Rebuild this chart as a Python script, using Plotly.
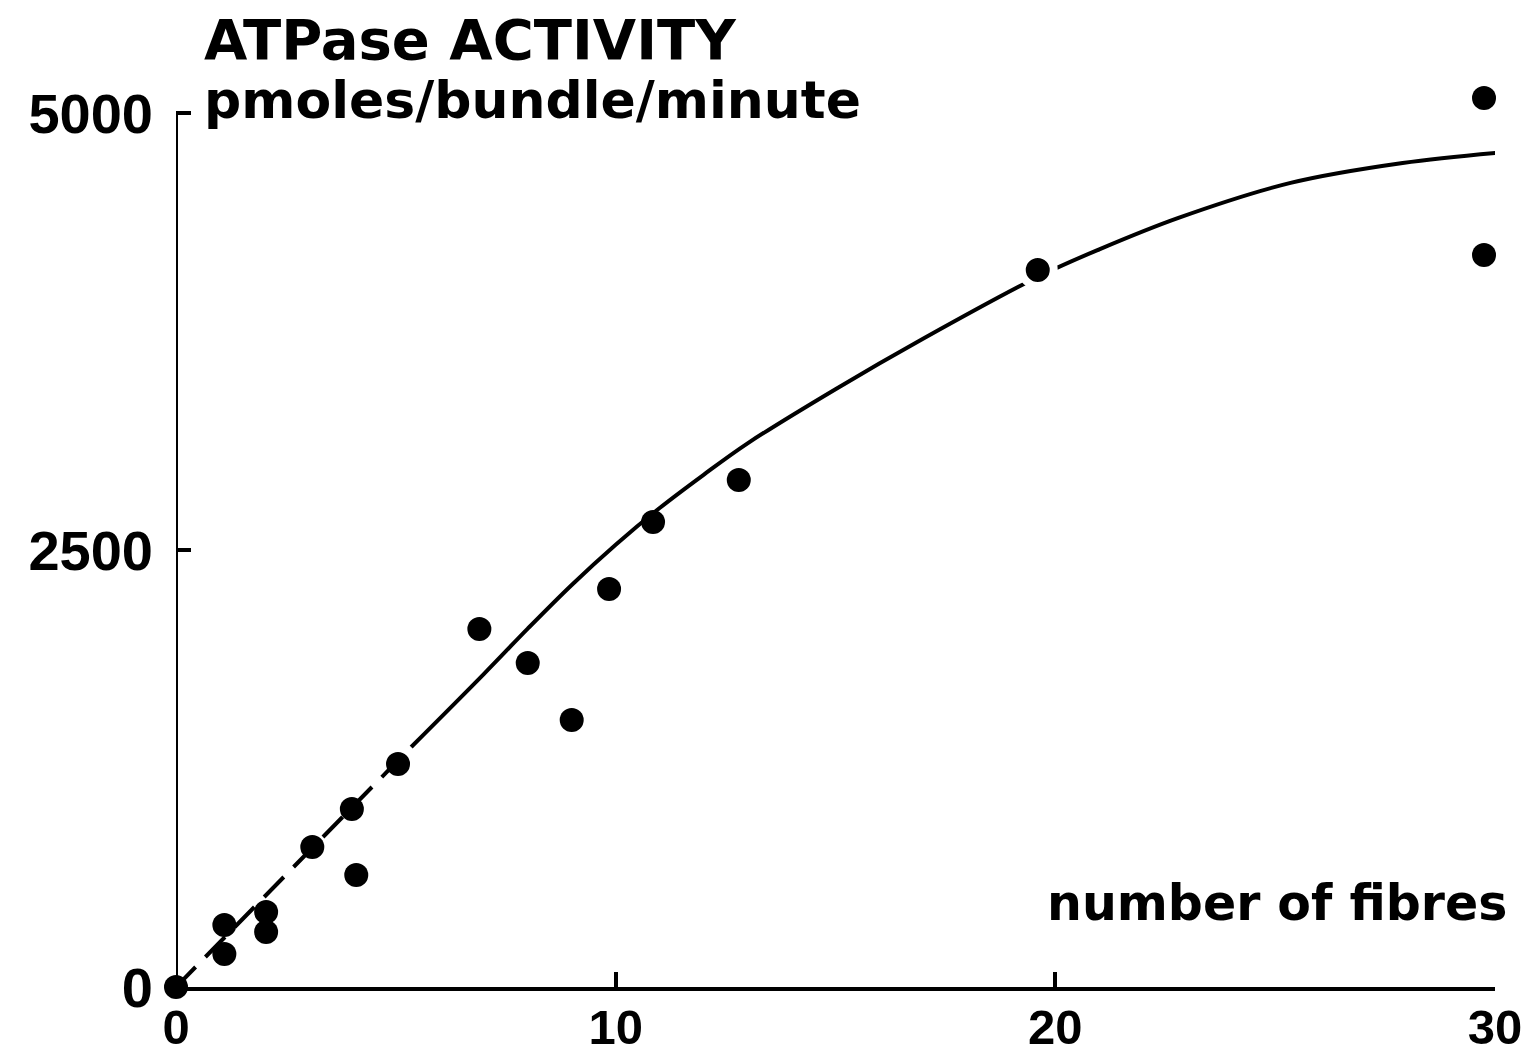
import plotly.graph_objects as go

# Measured data points (number of fibres, ATPase activity pmoles/bundle/minute)
fibres = [0, 1.1, 1.1, 2.05, 2.05, 3.1, 4.0, 4.1, 5.05, 6.9, 8.0, 9.0, 9.85, 10.85, 12.8, 19.6, 29.75, 29.75]
activity = [0, 355, 189, 429, 315, 801, 1018, 641, 1276, 2048, 1854, 1527, 2277, 2660, 2900, 4102, 5086, 4188]

# Fitted curve, dashed initial segment
curve_dash_x = [0, 5.35]
curve_dash_y = [0, 1373]

# Fitted curve, solid part
curve_x = [5.35, 7, 8, 9, 10, 11, 12, 13, 15, 17, 19.6, 21, 22.8, 25.35, 27.9, 30.25]
curve_y = [1373, 1790, 2050, 2300, 2530, 2740, 2930, 3110, 3420, 3710, 4062, 4220, 4400, 4600, 4714, 4777]

x_ticks = [0, 10, 20, 30]
y_ticks = [0, 2500, 5000]
y_axis_top = 5000

TICK_FONT = "Liberation Sans"
TEXT_FONT = "DejaVu Sans"

# the point lying on the curve at ~20 fibres has a white gap in the line around it
gap_point_x = 19.6
sizes = [32 if xv == gap_point_x else 24 for xv in fibres]
outline_w = [8 if xv == gap_point_x else 0 for xv in fibres]

fig = go.Figure()
fig.add_trace(go.Scatter(x=curve_dash_x, y=curve_dash_y, mode="lines",
                         line=dict(color="black", width=4, dash="28px,14px"),
                         cliponaxis=False, showlegend=False, hoverinfo="skip"))
fig.add_trace(go.Scatter(x=curve_x, y=curve_y, mode="lines",
                         line=dict(color="black", width=4, shape="spline", smoothing=1.0),
                         cliponaxis=False, showlegend=False, hoverinfo="skip"))
fig.add_trace(go.Scatter(x=fibres, y=activity, mode="markers",
                         marker=dict(color="black", size=sizes, opacity=1,
                                     line=dict(color="white", width=outline_w)),
                         cliponaxis=False, showlegend=False))

# vertical axis line only up to the top tick
fig.add_shape(type="line", xref="x", yref="y", x0=0, x1=0, y0=0, y1=y_axis_top,
              line=dict(color="black", width=4), layer="below")

fig.update_layout(
    width=1529, height=1051,
    margin=dict(l=168, r=42, t=70, b=72, pad=0),
    paper_bgcolor="white", plot_bgcolor="white",
    xaxis=dict(range=[0, 30], tickvals=x_ticks, ticktext=[str(v) for v in x_ticks],
               automargin=False, layer="below traces",
               showgrid=False, zeroline=False, showline=True, linecolor="black", linewidth=4,
               ticks="inside", ticklen=15, tickwidth=4, tickcolor="black",
               ticklabelstandoff=-6,
               tickfont=dict(family=TICK_FONT, size=49, color="black", weight="bold")),
    yaxis=dict(range=[0, 5200], tickvals=y_ticks, ticktext=[str(v) for v in y_ticks],
               automargin=False, layer="below traces",
               showgrid=False, zeroline=False, showline=False,
               ticks="inside", ticklen=15, tickwidth=4, tickcolor="black",
               ticklabelstandoff=22,
               tickfont=dict(family=TICK_FONT, size=56, color="black", weight="bold")),
    annotations=[
        dict(text="ATPase ACTIVITY", xref="paper", yref="paper", x=0.0197, y=1.0427,
             xanchor="left", yanchor="middle", showarrow=False,
             font=dict(family=TEXT_FONT, size=56, color="black", weight="bold")),
        dict(text="pmoles/bundle/minute", xref="paper", yref="paper", x=0.0197, y=0.9758,
             xanchor="left", yanchor="middle", showarrow=False,
             font=dict(family=TEXT_FONT, size=52, color="black", weight="bold")),
        dict(text="number of fibres", xref="paper", yref="paper", x=1.0106, y=0.0924,
             xanchor="right", yanchor="middle", showarrow=False,
             font=dict(family=TEXT_FONT, size=49, color="black", weight="bold")),
    ],
)

fig.write_html("out.html")
